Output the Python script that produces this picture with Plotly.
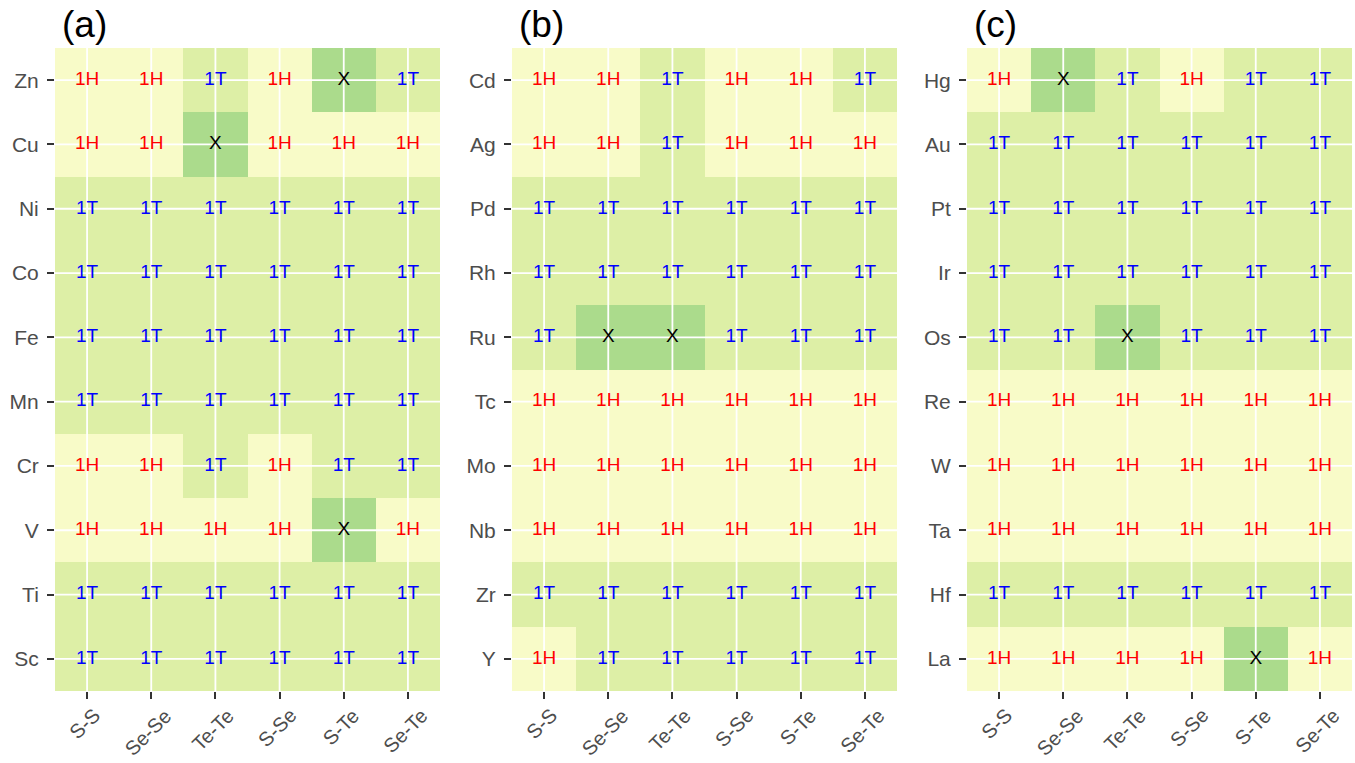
import plotly.graph_objects as go

# Stacking types of the Janus-style chalcogenide pairs for each transition metal
pairs = ["S-S", "Se-Se", "Te-Te", "S-Se", "S-Te", "Se-Te"]

metals_a = ["Zn", "Cu", "Ni", "Co", "Fe", "Mn", "Cr", "V", "Ti", "Sc"]
phases_a = [
    ["1H", "1H", "1T", "1H", "X", "1T"],
    ["1H", "1H", "X", "1H", "1H", "1H"],
    ["1T", "1T", "1T", "1T", "1T", "1T"],
    ["1T", "1T", "1T", "1T", "1T", "1T"],
    ["1T", "1T", "1T", "1T", "1T", "1T"],
    ["1T", "1T", "1T", "1T", "1T", "1T"],
    ["1H", "1H", "1T", "1H", "1T", "1T"],
    ["1H", "1H", "1H", "1H", "X", "1H"],
    ["1T", "1T", "1T", "1T", "1T", "1T"],
    ["1T", "1T", "1T", "1T", "1T", "1T"],
]

metals_b = ["Cd", "Ag", "Pd", "Rh", "Ru", "Tc", "Mo", "Nb", "Zr", "Y"]
phases_b = [
    ["1H", "1H", "1T", "1H", "1H", "1T"],
    ["1H", "1H", "1T", "1H", "1H", "1H"],
    ["1T", "1T", "1T", "1T", "1T", "1T"],
    ["1T", "1T", "1T", "1T", "1T", "1T"],
    ["1T", "X", "X", "1T", "1T", "1T"],
    ["1H", "1H", "1H", "1H", "1H", "1H"],
    ["1H", "1H", "1H", "1H", "1H", "1H"],
    ["1H", "1H", "1H", "1H", "1H", "1H"],
    ["1T", "1T", "1T", "1T", "1T", "1T"],
    ["1H", "1T", "1T", "1T", "1T", "1T"],
]

metals_c = ["Hg", "Au", "Pt", "Ir", "Os", "Re", "W", "Ta", "Hf", "La"]
phases_c = [
    ["1H", "X", "1T", "1H", "1T", "1T"],
    ["1T", "1T", "1T", "1T", "1T", "1T"],
    ["1T", "1T", "1T", "1T", "1T", "1T"],
    ["1T", "1T", "1T", "1T", "1T", "1T"],
    ["1T", "1T", "X", "1T", "1T", "1T"],
    ["1H", "1H", "1H", "1H", "1H", "1H"],
    ["1H", "1H", "1H", "1H", "1H", "1H"],
    ["1H", "1H", "1H", "1H", "1H", "1H"],
    ["1T", "1T", "1T", "1T", "1T", "1T"],
    ["1H", "1H", "1H", "1H", "X", "1H"],
]

panel_titles = ["(a)", "(b)", "(c)"]

# Styling
phase_order = ["1H", "1T", "X"]
fill_colors = {"1H": "#F8FBC8", "1T": "#DDEFA6", "X": "#ABDB8C"}
text_colors = {"1H": "#FF0000", "1T": "#0000FF", "X": "#000000"}
FONT = "Liberation Sans, Arial, sans-serif"
TICK_GREY = "#4D4D4D"
W, H = 1355, 763
x_domains = [(55 / W, 440 / W), (512 / W, 897 / W), (967 / W, 1352 / W)]
y_domain = (1 - 691 / H, 1 - 48 / H)
xlabel_top = 1 - 703 / H  # top of the rotated pair labels, paper units

n = len(phase_order)
colorscale = []
for i, p in enumerate(phase_order):
    colorscale.append([i / n, fill_colors[p]])
    colorscale.append([(i + 1) / n, fill_colors[p]])

fig = go.Figure()
panels = [(metals_a, phases_a), (metals_b, phases_b), (metals_c, phases_c)]

for k, (metals, phases) in enumerate(panels):
    xa = "x" if k == 0 else f"x{k + 1}"
    ya = "y" if k == 0 else f"y{k + 1}"
    xs = list(range(len(pairs)))
    ys = list(range(len(metals)))
    z = [[phase_order.index(p) for p in row] for row in phases]

    fig.add_trace(go.Heatmap(
        x=xs, y=ys, z=z, zmin=-0.5, zmax=n - 0.5,
        colorscale=colorscale, showscale=False, hoverinfo="skip",
        xaxis=xa, yaxis=ya,
    ))

    # white grid lines drawn over the tiles
    gx, gy = [], []
    for xi in xs:
        gx += [xi, xi, None]
        gy += [-0.5, len(metals) - 0.5, None]
    for yi in ys:
        gx += [-0.5, len(pairs) - 0.5, None]
        gy += [yi, yi, None]
    fig.add_trace(go.Scatter(
        x=gx, y=gy, mode="lines", line=dict(color="white", width=1.8),
        hoverinfo="skip", showlegend=False, xaxis=xa, yaxis=ya,
    ))

    tx, ty, tt, tc = [], [], [], []
    for yi, row in enumerate(phases):
        for xi, p in enumerate(row):
            tx.append(xi)
            ty.append(yi)
            tt.append(p)
            tc.append(text_colors[p])
    fig.add_trace(go.Scatter(
        x=tx, y=ty, text=tt, mode="text",
        textfont=dict(family=FONT, size=19, color=tc),
        hoverinfo="skip", showlegend=False, xaxis=xa, yaxis=ya,
    ))

    axis_common = dict(
        showgrid=False, zeroline=False, showline=False, automargin=False,
        ticks="outside", ticklen=7, tickwidth=2, tickcolor="#333333",
        tickfont=dict(family=FONT, size=21, color=TICK_GREY),
    )
    fig.layout[xa.replace("x", "xaxis")] = dict(
        domain=x_domains[k], anchor=ya, range=[-0.5, len(pairs) - 0.5],
        tickmode="array", tickvals=xs, showticklabels=False, **axis_common,
    )
    fig.layout[ya.replace("y", "yaxis")] = dict(
        domain=y_domain, anchor=xa, range=[len(metals) - 0.5, -0.5],
        tickmode="array", tickvals=ys, ticktext=metals,
        ticklabelstandoff=4, **axis_common,
    )

    # 45-degree pair labels, centred under each tick
    for xi, lab in zip(xs, pairs):
        fig.add_annotation(
            text=lab, xref=xa, x=xi, yref="paper", y=xlabel_top,
            xanchor="center", yanchor="top", textangle=-45, xshift=-3,
            showarrow=False, borderpad=0,
            font=dict(family=FONT, size=20, color=TICK_GREY),
        )

    fig.add_annotation(
        text=panel_titles[k], xref="paper", yref="paper",
        x=x_domains[k][0] + 5 / W, y=1 - 24 / H,
        xanchor="left", yanchor="middle", showarrow=False,
        font=dict(family=FONT, size=37, color="#000000"),
    )

fig.update_layout(
    width=W, height=H, margin=dict(l=0, r=0, t=0, b=0, autoexpand=False),
    paper_bgcolor="white", plot_bgcolor="white", showlegend=False,
)

fig.write_html("out.html")
